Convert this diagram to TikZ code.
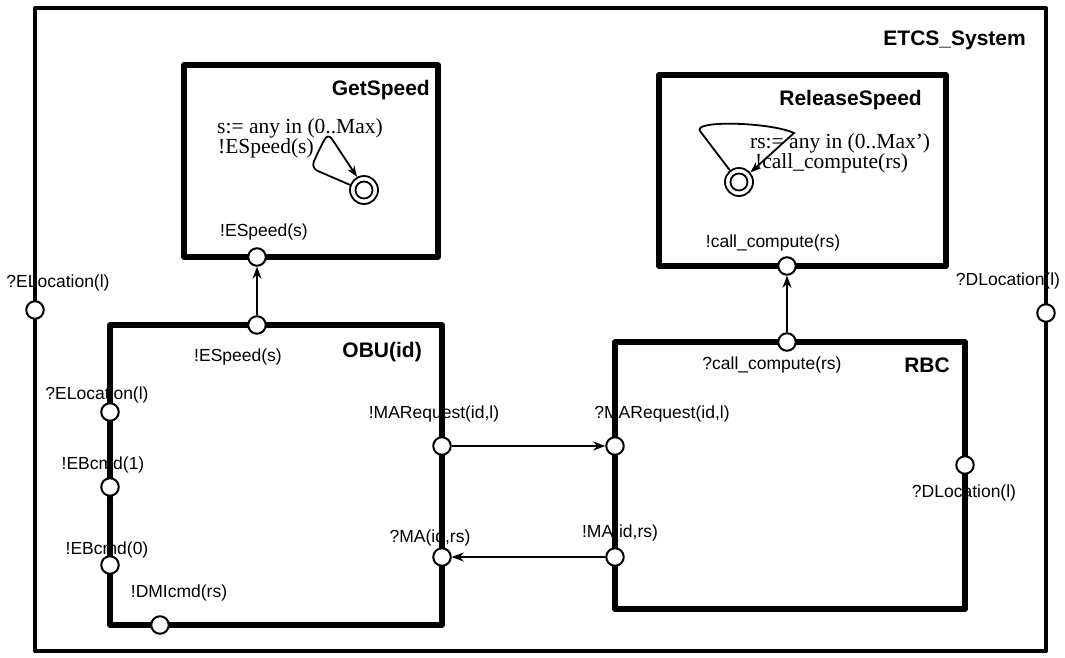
\documentclass[tikz,border=0pt]{standalone}
\usepackage{fontspec}
\setmainfont{Liberation Serif}
\setsansfont{Liberation Sans}
\usetikzlibrary{arrows.meta}
\begin{document}
\begin{tikzpicture}[x=1pt,y=-1pt,
  frame/.style={line width=4pt, line join=round},
  comp/.style={line width=5.5pt, line join=round},
  port/.style={circle, draw, fill=white, line width=2pt, minimum size=17.5pt, inner sep=0pt},
  plabel/.style={font=\sffamily\fontsize{17.5}{20}\selectfont, inner sep=0pt},
  title/.style={font=\sffamily\bfseries\fontsize{21}{24}\selectfont, inner sep=0pt, anchor=east},
  guard/.style={font=\rmfamily\fontsize{21.5}{24}\selectfont, inner sep=0pt, anchor=west},
  conn/.style={line width=1.5pt, -{Stealth[length=12pt,width=9pt]}},
  trans/.style={line width=1.8pt, -{Stealth[length=11pt,width=8pt]}},
  fstate/.style={circle, draw, line width=1.8pt, minimum size=28pt, inner sep=0pt}
]
\useasboundingbox (0,0) rectangle (1065,657);

% frames
\draw[frame] (35,8) rectangle (1046,651);
\draw[comp] (184,65) rectangle (438,257);
\draw[comp] (659,75) rectangle (946,266);
\draw[comp] (110,325) rectangle (442,625);
\draw[comp] (615,342) rectangle (965,609);

% titles
\node[title] (tEtcs) at (1026,40) {ETCS\_System};
\node[title] (tGS) at (430,90) {GetSpeed};
\node[title] (tRS) at (922,100) {ReleaseSpeed};
\node[title] (tOBU) at (422,352) {OBU(id)};
\node[title] (tRBC) at (950,365) {RBC};

% ports
\node[port] (pGS) at (257,257) {};
\node[port] (pOBUs) at (257,325) {};
\node[port] (pRS) at (787,266) {};
\node[port] (pRBCc) at (787,342) {};
\node[port] (pEL) at (35,310) {};
\node[port] (pDL) at (1046,313) {};
\node[port] (pOEL) at (110,412) {};
\node[port] (pEB1) at (110,487) {};
\node[port] (pEB0) at (110,565) {};
\node[port] (pDMI) at (160,625) {};
\node[port] (pMAR) at (442,446) {};
\node[port] (pMA) at (442,557) {};
\node[port] (pRMAR) at (615,446) {};
\node[port] (pRMA) at (615,557) {};
\node[port] (pRDL) at (965,465) {};

% port labels
\node[plabel] (lGS) at (264,232) {!ESpeed(s)};
\node[plabel] (lRS) at (773,243) {!call\_compute(rs)};
\node[plabel] (lEL) at (58,283) {?ELocation(l)};
\node[plabel] (lDL) at (1008,281) {?DLocation(l)};
\node[plabel] (lOBUs) at (238,357) {!ESpeed(s)};
\node[plabel] (lOEL) at (97,395) {?ELocation(l)};
\node[plabel] (lEB1) at (103,465) {!EBcmd(1)};
\node[plabel] (lEB0) at (107,550) {!EBcmd(0)};
\node[plabel] (lDMI) at (179,593) {!DMIcmd(rs)};
\node[plabel] (lMAR) at (434,414) {!MARequest(id,l)};
\node[plabel] (lMA) at (430,538) {?MA(id,rs)};
\node[plabel] (lRMAR) at (662,414) {?MARequest(id,l)};
\node[plabel] (lRMA) at (620,533) {!MA(id,rs)};
\node[plabel] (lRBCc) at (772,365) {?call\_compute(rs)};
\node[plabel] (lRDL) at (964,493) {?DLocation(l)};

% connectors
\draw[conn] (pOBUs) -- (pGS);
\draw[conn] (pRBCc) -- (pRS);
\draw[conn] (pMAR) -- (pRMAR);
\draw[conn] (pRMA) -- (pMA);

% GetSpeed automaton
\node[fstate] (sGS) at (364,190) {};
\draw[line width=1.8pt] (sGS.center) circle (8.5);
\node[guard] (gGS1) at (217,128) {s:= any in (0..Max)};
\node[guard] (gGS2) at (218,148) {!ESpeed(s)};
\draw[trans, rounded corners=7pt] (sGS.160) -- (311,168) -- (319,150) -- (328,133) -- (sGS.118);

% ReleaseSpeed automaton
\node[fstate] (sRS) at (739,182) {};
\draw[line width=1.8pt] (sRS.center) circle (8.5);
\node[guard] (gRS1) at (750,143) {rs:= any in (0..Max')};
\node[guard] (gRS2) at (755,163) {!call\_compute(rs)};
\draw[trans] (sRS.128) -- (700,131) .. controls (692,120) and (770,122) .. (794,133) -- (sRS.40);
\end{tikzpicture}
\end{document}
